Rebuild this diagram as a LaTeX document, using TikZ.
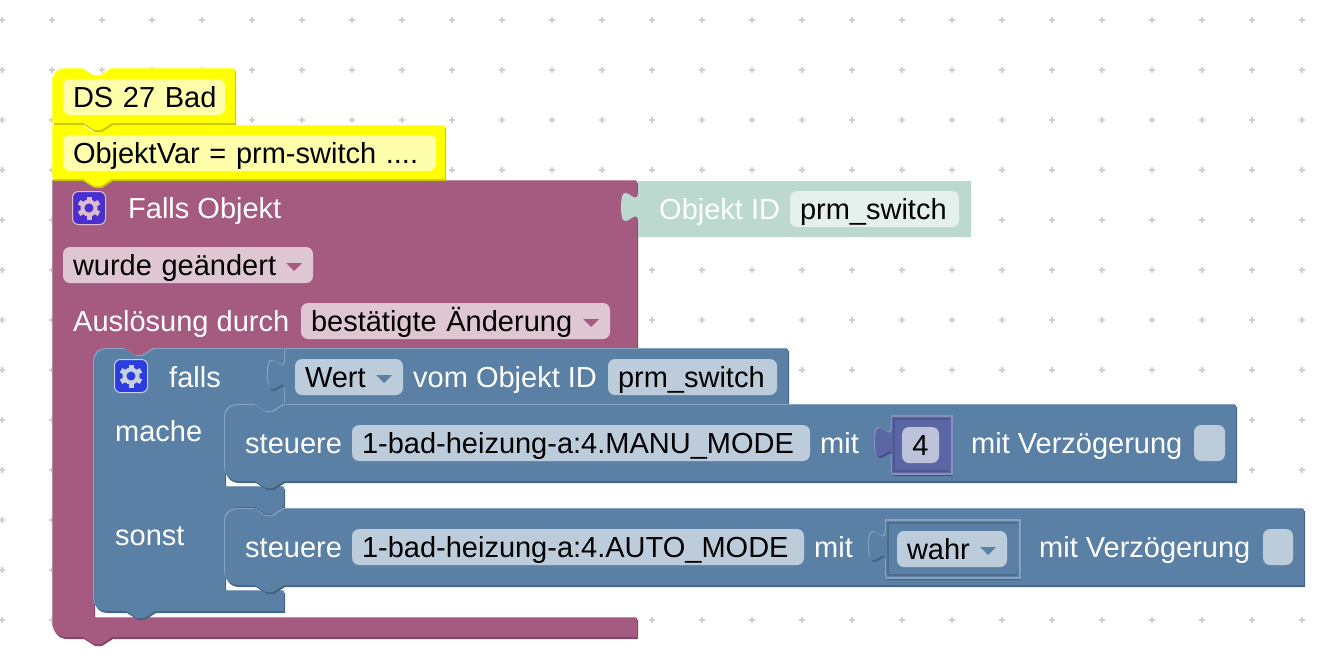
\documentclass[tikz,border=0pt]{standalone}
\usepackage{fontspec}
\setmainfont{Liberation Sans}
\usetikzlibrary{calc}
\definecolor{dsyellow}{HTML}{FFFF00}
\definecolor{trigmaroon}{HTML}{A55B80}
\definecolor{logicblue}{HTML}{5B80A5}
\definecolor{idgreen}{HTML}{BCD9CF}
\definecolor{numindigo}{HTML}{5B67A5}
\definecolor{gearviolet}{HTML}{4A2FCF}
\definecolor{gearblue}{HTML}{2C3CE0}
\tikzset{
  griddot/.style={
    draw=black!19,
    line width=2pt
  },
  fieldbox/.style={
    rounded corners=7pt,
    inner xsep=10pt,
    inner ysep=0pt,
    minimum height=36pt,
    text height=24pt,
    text depth=4pt,
    text=black,
    font=\blockfont
  },
  blocktext/.style={
    anchor=west,
    inner sep=0pt,
    text height=24pt,
    text depth=4pt,
    text=white,
    font=\blockfont
  }
}
\newcommand{\blockfont}{\fontsize{29}{32}\selectfont}
% block with light edge top left and dark edge bottom right
\newcommand{\bevelblock}[2]{
  \fill[#1!72!white, shift={(-1,-1)}] #2;
  \fill[#1!78!black, shift={(1,2)}] #2;
  \fill[#1] #2;
}
% notch, left to right / tab, right to left
\newcommand{\notchgo}{-- ++(11,7) -- ++(7,0) -- ++(11,-7)}
\newcommand{\tabback}{-- ++(-11,7) -- ++(-7,0) -- ++(-11,-7)}
% puzzle tab on a left edge, going up
\newcommand{\puzzleup}{.. controls +(0,-21) and +(0,33) .. ++(-17,-16) .. controls +(0,-33) and +(0,21) .. ++(17,-16)}
% name, fill, left, right, centre y, text
\newcommand{\textfield}[6]{
  \node[fieldbox, fill=#2, minimum width={(#4-#3)*1pt}, text width={(#4-#3-20)*1pt}, align=left] (#1) at ({(#3+#4)/2},#5) {\mbox{#6}};
}
\newcommand{\dropmark}[2]{
  \fill[#2] ($(#1.east)+(-27,-2)$) -- ++(16,0) -- ++(-8,8) -- cycle;
}
% left, top, right, bottom, colour: frame round a plugged-in value
\newcommand{\valueframe}[5]{
  \draw[#5!72!white, line width=2pt] (#1,#2) -- (#3,#2) -- (#3,#4) -- (#1,#4);
  \draw[#5!85!black, line width=1.5pt] (#1+2,#4-3) -- (#1+2,#2+3) -- (#3-3,#2+3);
  \draw[#5!85!black, line width=1.5pt] (#1+2,#4-3) -- (#3-3,#4-3);
}
% centre x, centre y, box colour, gear colour
\newcommand{\gearicon}[4]{
  \filldraw[fill=#3, draw=#4, line width=1pt, rounded corners=6pt] (#1-16.5,#2-16.5) rectangle (#1+16.5,#2+16.5);
  \draw[#4, line width=4pt] (#1,#2) circle (6.5pt);
  \foreach \a in {30,90,...,330} {
    \draw[#4, line width=5pt] (#1,#2) ++(\a:7pt) -- ++(\a:4.5pt);
  }
}

\begin{document}
\begin{tikzpicture}[x=1pt, y=-1pt]
  \useasboundingbox (0,0) rectangle (1330,664);

  % workspace grid
  \foreach \x in {2,52,...,1302} {
    \foreach \y in {20,70,...,620} {
      \draw[griddot] (\x-3,\y) -- (\x+3,\y);
      \draw[griddot] (\x,\y-3) -- (\x,\y+3);
    }
  }

  % trigger block
  \bevelblock{trigmaroon}{(53,181) -- (83,181) \notchgo -- (637,181) -- (637,349) -- (155,349) \tabback -- (108,349) .. controls (99,349) and (94,354) .. (94,363) -- (94,618) -- (637,618) -- (637,637) -- (112,637) \tabback -- (67,637) .. controls (58,637) and (53,632) .. (53,623) -- cycle}
  \gearicon{89}{208}{gearviolet}{trigmaroon!40!white}
  \node[blocktext] (fallsobjekt) at (128,208) {Falls Objekt};
  \textfield{geaendert}{trigmaroon!35!white}{63}{313}{265}{wurde geändert}
  \dropmark{geaendert}{trigmaroon}
  \node[blocktext] (ausloesung) at (73,321) {Auslösung durch};
  \textfield{bestaetigt}{trigmaroon!35!white}{301}{610}{321}{bestätigte Änderung}
  \dropmark{bestaetigt}{trigmaroon}

  % comment blocks
  \bevelblock{dsyellow}{(53,126) -- (83,126) \notchgo -- (445,126) -- (445,179) -- (112,179) \tabback -- (53,179) -- cycle}
  \textfield{objektvar}{dsyellow!33!white}{63}{436}{153}{ObjektVar = prm-switch ....}
  \bevelblock{dsyellow}{(53,83) .. controls (53,74) and (58,69) .. (67,69) -- (83,69) \notchgo -- (235,69) -- (235,123) -- (112,123) \tabback -- (53,123) -- cycle}
  \textfield{dsbad}{dsyellow!33!white}{63}{225}{97}{DS 27 Bad}

  % object id value
  \fill[idgreen] (638,181) -- (971,181) -- (971,237) -- (638,237) -- (638,223) \puzzleup -- cycle;
  \node[blocktext, text=white] (objektid) at (659,209) {Objekt ID};
  \textfield{triggerid}{idgreen!40!white}{790}{959}{209}{prm\_switch}

  % if block
  \bevelblock{logicblue}{(108,349) -- (125,349) \notchgo -- (284,349) -- (284,405) \tabback -- (239,405) .. controls (230,405) and (225,410) .. (225,419) -- (225,487) -- (284,487) -- (284,507) \tabback -- (239,507) .. controls (230,507) and (225,512) .. (225,521) -- (225,591) -- (284,591) -- (284,611) -- (155,611) \tabback -- (106,611) .. controls (99,611) and (94,606) .. (94,599) -- (94,363) .. controls (94,354) and (99,349) .. (108,349) -- cycle}
  \gearicon{131}{376}{gearblue}{logicblue!35!white}
  \node[blocktext] (falls) at (169,377) {falls};
  \node[blocktext] (mache) at (115,431) {mache};
  \node[blocktext] (sonst) at (115,535) {sonst};

  % value of object
  \bevelblock{logicblue}{(285,349) -- (788,349) -- (788,404) -- (285,404) -- (285,391) \puzzleup -- cycle}
  \textfield{wert}{logicblue!40!white}{295}{403}{377}{Wert}
  \dropmark{wert}{logicblue}
  \node[blocktext] (vomobjekt) at (413,377) {vom Objekt ID};
  \textfield{wertid}{logicblue!40!white}{608}{777}{377}{prm\_switch}

  % control, manual mode
  \bevelblock{logicblue}{(239,405) -- (255,405) \notchgo -- (1236,405) -- (1236,481) -- (284,481) \tabback -- (239,481) .. controls (230,481) and (225,476) .. (225,467) -- (225,419) .. controls (225,410) and (230,405) .. (239,405) -- cycle}
  \node[blocktext] (steuerea) at (245,443) {steuere};
  \textfield{manumode}{logicblue!40!white}{352}{810}{443}{1-bad-heizung-a:4.MANU\_MODE}
  \node[blocktext] (mita) at (820,443) {mit};
  \bevelblock{numindigo}{(892,416) -- (952,416) -- (952,474) -- (892,474) -- (892,458) \puzzleup -- cycle}
  \valueframe{892}{416}{952}{474}{numindigo}
  \node[fieldbox, fill=numindigo!40!white, minimum width=37pt, inner xsep=0pt] (vier) at (920.5,445) {4};
  \node[blocktext] (verzoegerunga) at (971,443) {mit Verzögerung};
  \textfield{delaya}{logicblue!40!white}{1194}{1225}{443}{}

  % control, auto mode
  \bevelblock{logicblue}{(239,509) -- (255,509) \notchgo -- (1304,509) -- (1304,585) -- (284,585) \tabback -- (239,585) .. controls (230,585) and (225,580) .. (225,571) -- (225,523) .. controls (225,514) and (230,509) .. (239,509) -- cycle}
  \node[blocktext] (steuereb) at (245,547) {steuere};
  \textfield{automode}{logicblue!40!white}{352}{804}{547}{1-bad-heizung-a:4.AUTO\_MODE}
  \node[blocktext] (mitb) at (814,547) {mit};
  \bevelblock{logicblue}{(886,520) -- (1020,520) -- (1020,578) -- (886,578) -- (886,562) \puzzleup -- cycle}
  \valueframe{886}{520}{1020}{578}{logicblue}
  \textfield{wahr}{logicblue!40!white}{897}{1007}{549}{wahr}
  \dropmark{wahr}{logicblue}
  \node[blocktext] (verzoegerungb) at (1039,547) {mit Verzögerung};
  \textfield{delayb}{logicblue!40!white}{1263}{1293}{547}{}
\end{tikzpicture}
\end{document}
